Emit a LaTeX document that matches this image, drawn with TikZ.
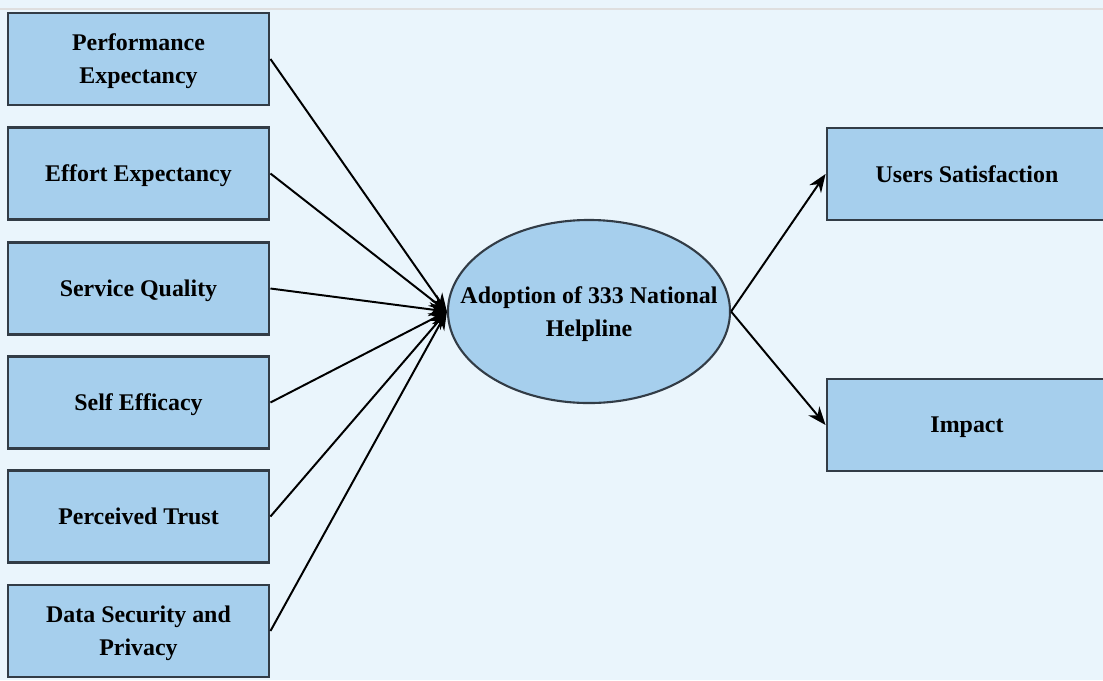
\documentclass[tikz,border=0pt]{standalone}
\usepackage{fontspec}
\setmainfont{Liberation Serif}
\usetikzlibrary{shapes.geometric,arrows.meta}
\definecolor{bgblue}{RGB}{234,245,252}
\definecolor{boxblue}{RGB}{166,207,237}
\definecolor{edgegray}{RGB}{50,60,70}
\tikzset{
  factor/.style={draw=edgegray, line width=2pt, fill=boxblue, minimum width=6.525cm, minimum height=2.3cm, inner sep=0pt, align=center, text depth=0pt, font=\fontsize{17}{23.5}\selectfont\bfseries},
  outcome/.style={factor, minimum width=7cm},
  core/.style={ellipse, draw=edgegray, line width=1.5pt, fill=boxblue, minimum width=7.05cm, minimum height=4.575cm, inner sep=0pt},
  coretext/.style={align=center, inner sep=0pt, text depth=0pt, font=\fontsize{17}{23.5}\selectfont\bfseries},
  link/.style={line width=1.4pt, -{Stealth[length=13pt, width=10pt]}}
}
\begin{document}
\begin{tikzpicture}[x=0.025cm, y=-0.025cm]
	% Hintergrund
	\useasboundingbox (0,0) rectangle (1103,680);
	\clip (0,0) rectangle (1103,680);
	\fill[bgblue] (0,0) rectangle (1103,680);
	\draw[gray!25, line width=0.8pt] (0,9) -- (1103,9); % obere Linie

	% Einflussfaktoren links
	\node[factor] (pe) at (138.5,59) {Performance\\Expectancy};
	\node[factor] (ee) at (138.5,173.5) {Effort Expectancy};
	\node[factor] (sq) at (138.5,288.5) {Service Quality};
	\node[factor] (se) at (138.5,402.5) {Self Efficacy};
	\node[factor] (pt) at (138.5,516.5) {Perceived Trust};
	\node[factor] (dsp) at (138.5,631) {Data Security and\\Privacy};

	% Adoption in der Mitte
	\node[core] (adopt) at (589,311.5) {};
	\node[coretext] (adopttext) at (adopt.center) {Adoption of 333 National\\Helpline};

	% Folgen rechts
	\node[outcome] (us) at (967,174) {Users Satisfaction};
	\node[outcome] (imp) at (967,425) {Impact};

	% Pfeile
	\foreach \src in {pe,ee,sq,se,pt,dsp}
		\draw[link] (\src.east) -- (adopt.west);
	\draw[link] (adopt.east) -- (us.west);
	\draw[link] (adopt.east) -- (imp.west);
\end{tikzpicture}
\end{document}
